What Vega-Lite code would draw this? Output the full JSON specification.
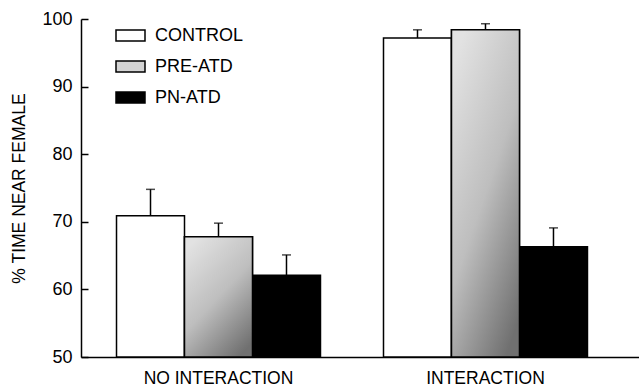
{
  "$schema": "https://vega.github.io/schema/vega-lite/v6.json",
  "width": 558,
  "height": 338,
  "autosize": "none",
  "padding": {"left": 81, "top": 19, "right": 0, "bottom": 30},
  "background": "white",
  "config": {
    "view": {"stroke": null},
    "font": "Liberation Sans",
    "axis": {
      "domainColor": "black",
      "domainWidth": 1.5,
      "tickColor": "black",
      "labelColor": "black",
      "titleColor": "black",
      "labelFont": "Liberation Sans",
      "titleFont": "Liberation Sans",
      "grid": false
    },
    "legend": {"labelFont": "Liberation Sans", "labelColor": "black", "padding": 0}
  },
  "data": {
    "values": [
      {"group": "NO INTERACTION", "series": "CONTROL", "value": 70.9, "upper": 74.8},
      {"group": "NO INTERACTION", "series": "PRE-ATD", "value": 67.8, "upper": 69.8},
      {"group": "NO INTERACTION", "series": "PN-ATD", "value": 62.1, "upper": 65.1},
      {"group": "INTERACTION", "series": "CONTROL", "value": 97.2, "upper": 98.4},
      {"group": "INTERACTION", "series": "PRE-ATD", "value": 98.4, "upper": 99.3},
      {"group": "INTERACTION", "series": "PN-ATD", "value": 66.3, "upper": 69.1}
    ]
  },
  "encoding": {
    "x": {
      "field": "group",
      "type": "nominal",
      "sort": ["NO INTERACTION", "INTERACTION"],
      "scale": {"paddingInner": 0.236, "paddingOuter": 0.163, "align": 0.408},
      "axis": {"title": null, "labelAngle": 0, "ticks": false, "labelFontSize": 17.5, "labelPadding": 12.5}
    },
    "xOffset": {
      "field": "series",
      "type": "nominal",
      "sort": ["CONTROL", "PRE-ATD", "PN-ATD"],
      "scale": {"paddingInner": 0, "paddingOuter": 0}
    },
    "y": {
      "field": "value",
      "type": "quantitative",
      "scale": {"domain": [50, 100], "nice": false, "zero": false},
      "axis": {
        "values": [50, 60, 70, 80, 90, 100],
        "tickSize": -7,
        "tickWidth": 1.5,
        "labelFontSize": 18,
        "labelPadding": 16,
        "title": "% TIME NEAR FEMALE",
        "titleFontSize": 17.5,
        "titleFontWeight": "normal",
        "titlePadding": 13
      }
    }
  },
  "layer": [
    {
      "mark": {"type": "bar", "stroke": "black", "strokeWidth": 1.5},
      "encoding": {
        "y2": {"datum": 50},
        "fill": {
          "field": "series",
          "type": "nominal",
          "sort": ["CONTROL", "PRE-ATD", "PN-ATD"],
          "scale": {"range": ["white", "#d4d4d4", "black"]},
          "legend": {
            "title": null,
            "orient": "none",
            "legendX": 34,
            "legendY": 1,
            "symbolType": "M-1,-0.38L1,-0.38L1,0.38L-1,0.38Z",
            "symbolSize": 841,
            "symbolStrokeColor": "black",
            "symbolStrokeWidth": 1.5,
            "symbolOpacity": 1,
            "labelFontSize": 18,
            "labelOffset": 9,
            "rowPadding": 6
          }
        }
      }
    },
    {
      "transform": [{"filter": "datum.series === 'PRE-ATD'"}],
      "mark": {
        "type": "bar",
        "stroke": "black",
        "strokeWidth": 1.5,
        "fill": {
          "gradient": "linear",
          "x1": 0.2, "y1": 0, "x2": 0.8, "y2": 1,
          "stops": [
            {"offset": 0, "color": "#e2e2e2"},
            {"offset": 0.5, "color": "#bebebe"},
            {"offset": 1, "color": "#707070"}
          ]
        }
      },
      "encoding": {"y2": {"datum": 50}}
    },
    {
      "mark": {"type": "rule", "stroke": "black", "strokeWidth": 1.5},
      "encoding": {"y2": {"field": "upper"}}
    },
    {
      "mark": {"type": "tick", "color": "black", "size": 9, "thickness": 1.5, "orient": "horizontal"},
      "encoding": {"y": {"field": "upper", "type": "quantitative"}}
    }
  ]
}
